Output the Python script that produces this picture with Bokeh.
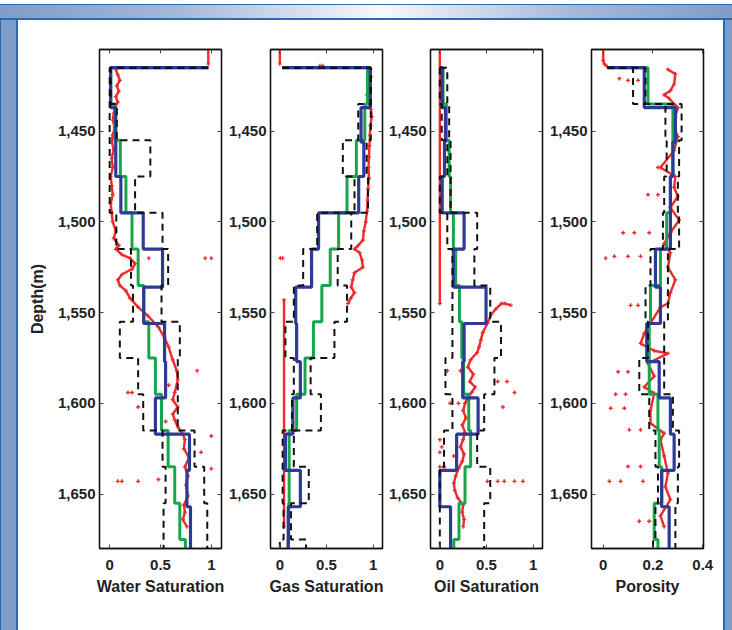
import math
from bokeh.plotting import figure
from bokeh.models import (Range1d, FixedTicker, LinearAxis, NumeralTickFormatter, Div,
                          CustomLabelingPolicy)
from bokeh.layouts import row, column
from bokeh.embed import file_html
from bokeh.resources import INLINE

NAN = float("nan")
BOTTOM = 1680

# ---- layer tops (m) ----
GREEN_TOPS = [1415, 1415, 1435, 1455, 1475, 1495, 1515, 1535, 1555, 1575, 1595, 1615, 1635, 1655, 1675]
BLUE_TOPS = [1415, 1415, 1437, 1456, 1475, 1495, 1515, 1536, 1556, 1577, 1597, 1617, 1637, 1657]
DASH_TOPS = [1415, 1415, 1435, 1455, 1475, 1495, 1515, 1535, 1555, 1575, 1595, 1615, 1635, 1655, 1675]

# ---- Water saturation ----
WS_GREEN = [0.97, 0.01, 0.05, 0.105, 0.16, 0.22, 0.28, 0.335, 0.385, 0.45, 0.51, 0.575, 0.64, 0.69, 0.745]
WS_BLUE = [0.97, 0.01, 0.06, 0.06, 0.11, 0.33, 0.52, 0.335, 0.54, 0.55, 0.45, 0.785, 0.76, 0.795]
WS_UPPER = [0.97, 0.01, 0.07, 0.40, 0.25, 0.52, 0.575, 0.51, 0.69, 0.67, 0.67, 0.835, 0.93, 0.96, 0.96]
WS_LOWER = [0.97, 0.0, 0.0, 0.0, 0.0, 0.065, 0.21, 0.23, 0.10, 0.28, 0.33, 0.52, 0.55, 0.53, 0.53]
WS_LOG_DEPTH = [1405, 1413, NAN,
                1416, 1419, 1422, 1425, 1428, 1431, 1434, 1437, 1440, 1444, 1448, 1452, 1456, 1460,
                1465, 1470, 1475, 1480, 1485, 1490, 1495, 1500, 1505, 1509, 1513, 1515, 1518, 1520,
                1523, 1526, 1529, 1532, 1535, 1538, 1542, 1547, 1552, 1558, 1564, 1569, 1576, 1582,
                1587, 1594, 1598, 1602, 1606, 1609, 1613, 1617, 1620, 1625, 1630, 1635, 1640, 1645,
                1651, 1656, 1660, 1664, 1668]
WS_LOG_VALUE = [0.97, 0.97, NAN,
                0.06, 0.08, 0.10, 0.07, 0.09, 0.06, 0.08, 0.05, 0.04, 0.03, 0.05, 0.03, 0.02, 0.04,
                0.02, 0.03, 0.01, 0.02, 0.03, 0.01, 0.02, 0.03, 0.06, 0.04, 0.09, 0.06, 0.12, 0.20,
                0.25, 0.22, 0.12, 0.08, 0.10, 0.16, 0.20, 0.28, 0.38, 0.48, 0.54, 0.58, 0.62, 0.66,
                0.67, 0.64, 0.62, 0.67, 0.62, 0.64, 0.67, 0.72, 0.74, 0.73, 0.78, 0.74, 0.77, 0.75,
                0.77, 0.73, 0.74, 0.72, 0.76]
WS_OUT_DEPTH = [1520, 1520, 1520, 1582, 1594, 1594, 1602, 1618, 1627, 1636, 1643, 1643, 1643, 1642, 1610, 1590]
WS_OUT_VALUE = [0.385, 0.94, 1.0, 0.86, 0.18, 0.22, 0.28, 1.0, 0.90, 1.0, 0.08, 0.12, 0.28, 0.48, 0.55, 0.58]

# ---- Gas saturation ----
GS_GREEN = [0.025, 0.94, 0.91, 0.82, 0.72, 0.63, 0.54, 0.45, 0.36, 0.27, 0.18, 0.10, 0.10, 0.095, 0.09]
GS_BLUE = [0.025, 0.97, 0.87, 0.90, 0.845, 0.415, 0.34, 0.17, 0.18, 0.22, 0.14, 0.06, 0.22, 0.09]
GS_UPPER = [0.025, 0.975, 0.975, 0.93, 0.945, 0.765, 0.62, 0.72, 0.585, 0.33, 0.44, 0.15, 0.31, 0.12, 0.28]
GS_LOWER = [0.025, 0.975, 0.84, 0.675, 0.80, 0.40, 0.25, 0.15, 0.06, 0.15, 0.13, 0.03, 0.03, 0.04, 0.0]
GS_LOG_DEPTH = [1405, 1413, NAN,
                1416, 1420, 1425, 1430, 1434, 1438, 1442, 1447, 1452, 1458, 1464, 1470, 1476, 1482,
                1488, 1494, 1500, 1505, 1510, 1513, 1515, 1517, 1521, 1525, 1528, 1532, 1536, 1539,
                1542, 1545, NAN,
                1543, 1668]
GS_LOG_VALUE = [0.0, 0.0, NAN,
                0.97, 0.975, 0.96, 0.935, 0.95, 0.975, 0.985, 0.97, 0.965, 0.96, 0.955, 0.95, 0.955, 0.945,
                0.94, 0.935, 0.92, 0.90, 0.89, 0.84, 0.80, 0.855, 0.88, 0.89, 0.80, 0.78, 0.765, 0.80,
                0.76, 0.73, NAN,
                0.045, 0.045]
GS_OUT_DEPTH = [1520, 1520, 1414, 1414]
GS_OUT_VALUE = [0.005, 0.03, 0.43, 0.46]

# ---- Oil saturation ----
OS_GREEN = [0.0, 0.035, 0.07, 0.10, 0.115, 0.145, 0.17, 0.21, 0.235, 0.255, 0.31, 0.33, 0.27, 0.205, 0.15]
OS_BLUE = [0.0, 0.025, 0.06, 0.05, 0.025, 0.26, 0.145, 0.495, 0.26, 0.245, 0.41, 0.18, 0.0, 0.115]
OS_UPPER = [0.0, 0.08, 0.10, 0.115, 0.115, 0.40, 0.37, 0.54, 0.655, 0.585, 0.475, 0.40, 0.54, 0.475, 0.475]
OS_LOWER = [0.0, 0.0, 0.02, 0.08, 0.0, 0.08, 0.135, 0.135, 0.135, 0.06, 0.135, 0.045, 0.0, 0.0, 0.0]
OS_LOG_DEPTH = [1405, 1545, NAN,
                1546, 1545, 1545, 1548, 1551, 1556, 1561, 1565, 1569, 1572, 1576, 1580, 1584, 1588,
                1591, 1594, 1597, 1600, 1604, 1608, 1612, 1616, 1620, 1624, 1628, 1632, 1636, 1640,
                1644, 1648, 1652, 1656, 1660, 1664, 1668]
OS_LOG_VALUE = [0.0, 0.0, NAN,
                0.76, 0.70, 0.66, 0.60, 0.55, 0.51, 0.46, 0.44, 0.42, 0.40, 0.33, 0.30, 0.36, 0.32,
                0.38, 0.34, 0.30, 0.27, 0.25, 0.28, 0.24, 0.27, 0.25, 0.22, 0.26, 0.24, 0.20, 0.17,
                0.15, 0.16, 0.19, 0.25, 0.24, 0.26, 0.25]
OS_OUT_DEPTH = [1582, 1582, 1588, 1594, 1588, 1600, 1600, 1602, 1620, 1624, 1627, 1629, 1635, 1635,
                1643, 1643, 1643, 1643, 1643]
OS_OUT_VALUE = [0.08, 0.22, 0.72, 0.80, 0.62, 0.11, 0.20, 0.675, 0.0, 0.02, 0.0, 0.15, 0.0, 0.05,
                0.51, 0.62, 0.69, 0.80, 0.89]

# ---- Porosity ----
PO_GREEN = [0.017, 0.18, 0.28, 0.28, 0.27, 0.255, 0.23, 0.19, 0.185, 0.185, 0.22, 0.225, 0.235, 0.205, 0.22]
PO_BLUE = [0.017, 0.165, 0.29, 0.28, 0.27, 0.27, 0.21, 0.23, 0.175, 0.225, 0.27, 0.285, 0.235, 0.265]
PO_UPPER = [0.017, 0.17, 0.315, 0.305, 0.30, 0.305, 0.26, 0.26, 0.245, 0.245, 0.28, 0.305, 0.30, 0.29, 0.29]
PO_LOWER = [0.017, 0.12, 0.25, 0.255, 0.245, 0.24, 0.19, 0.17, 0.18, 0.145, 0.185, 0.21, 0.22, 0.21, 0.20]
PO_LOG_DEPTH = [1405, 1411, 1413, 1414.5, NAN,
                1416, 1418.5, 1424, 1427.7, 1430, 1432, 1437, 1442, 1448, 1453, 1460.6, 1470, 1475,
                1481, 1486, 1492, 1499, 1506, 1512, 1517, 1525, 1532, 1539, 1545, 1547, 1561.5, 1567,
                1571, 1572.5, 1578, 1585, 1591, 1594.5, 1603.7, 1611, 1616.5, 1620, 1629, 1638.5,
                1646, 1653, 1662, 1668]
PO_LOG_VALUE = [0.0, 0.0, 0.005, 0.017, NAN,
                0.26, 0.29, 0.285, 0.27, 0.245, 0.265, 0.30, 0.29, 0.285, 0.30, 0.285, 0.23, 0.29,
                0.285, 0.30, 0.27, 0.305, 0.27, 0.245, 0.27, 0.26, 0.29, 0.27, 0.26, 0.23, 0.165, 0.15,
                0.205, 0.26, 0.18, 0.205, 0.165, 0.205, 0.19, 0.19, 0.245, 0.23, 0.245, 0.26,
                0.25, 0.27, 0.23, 0.245]
PO_OUT_DEPTH = [1421, 1422, 1422, 1470, 1485, 1485, 1506, 1506, 1506, 1520, 1519, 1519, 1519, 1546, 1546,
                1582.6, 1582.6, 1595, 1595, 1602.7, 1602.7, 1614.6, 1614.6, 1634.8, 1634.8, 1643, 1643,
                1643, 1665, 1665]
PO_OUT_VALUE = [0.065, 0.10, 0.14, 0.22, 0.18, 0.22, 0.08, 0.125, 0.185, 0.01, 0.045, 0.10, 0.15, 0.11, 0.14,
                0.06, 0.10, 0.05, 0.09, 0.03, 0.085, 0.105, 0.15, 0.10, 0.15, 0.025, 0.07,
                0.16, 0.145, 0.185]

DEPTH_TICKS = [1450, 1500, 1550, 1600, 1650]
SAT_TICKS = [0, 0.5, 1]
SAT_LABELS = {0: "0", 0.5: "0.5", 1: "1"}
POR_TICKS = [0, 0.2, 0.4]
POR_LABELS = {0: "0", 0.2: "0.2", 0.4: "0.4"}

RED = "#ee2a2a"
GREEN = "#17a64a"
BLUE = "#2e3a96"
FONT = "Liberation Sans"
TEXT = "#222222"


def step_path(tops, vals, bottom=BOTTOM):
    xs, ys = [], []
    for i, v in enumerate(vals):
        top = tops[i]
        bot = tops[i + 1] if i + 1 < len(tops) else bottom
        xs += [v, v]
        ys += [top, bot]
    return xs, ys


def style_axis(ax, show_labels=True):
    ax.major_tick_in = 4
    ax.major_tick_out = 0
    ax.minor_tick_in = 0
    ax.minor_tick_out = 0
    ax.major_tick_line_color = "#444444"
    ax.major_tick_line_width = 1
    ax.axis_line_color = "#111111"
    ax.axis_line_width = 1.3
    if show_labels:
        ax.major_label_text_font = FONT
        ax.major_label_text_font_style = "bold"
        ax.major_label_text_font_size = "15px"
        ax.major_label_text_color = TEXT
    else:
        ax.major_label_text_font_size = "0px"
        ax.major_label_standoff = 0
        ax.major_label_policy = CustomLabelingPolicy(code="return new Set()")


def make_panel(xr, xticks, xlabels, xlabel, green, blue, upper, lower,
               log_d, log_v, out_d, out_v, left_border, frame_w, right_border, ylabel=None):
    p = figure(frame_width=frame_w, frame_height=499,
               min_border_left=left_border, min_border_right=right_border,
               min_border_top=29, min_border_bottom=82,
               x_range=Range1d(*xr), y_range=Range1d(BOTTOM, 1405),
               output_backend="svg", toolbar_location=None)
    p.background_fill_color = "white"
    p.border_fill_color = "white"
    p.outline_line_color = "#111111"
    p.outline_line_width = 1.3
    p.xgrid.visible = False
    p.ygrid.visible = False

    # bottom axis
    xa = p.xaxis[0]
    xa.ticker = FixedTicker(ticks=xticks)
    xa.major_label_overrides = xlabels
    style_axis(xa)
    xa.major_label_standoff = 11
    xa.axis_label = xlabel
    xa.axis_label_text_font = FONT
    xa.axis_label_text_font_style = "bold"
    xa.axis_label_text_font_size = "16px"
    xa.axis_label_text_color = TEXT
    xa.axis_label_standoff = 5

    # left axis
    ya = p.yaxis[0]
    ya.ticker = FixedTicker(ticks=DEPTH_TICKS)
    ya.formatter = NumeralTickFormatter(format="0,0")
    style_axis(ya)
    ya.major_label_standoff = 4
    if ylabel:
        ya.axis_label = ylabel
        ya.axis_label_text_font = FONT
        ya.axis_label_text_font_style = "bold"
        ya.axis_label_text_font_size = "16px"
        ya.axis_label_text_color = TEXT
        ya.axis_label_standoff = 9

    # mirrored axes (inward ticks only)
    top = LinearAxis(ticker=FixedTicker(ticks=xticks))
    style_axis(top, show_labels=False)
    p.add_layout(top, "above")
    right = LinearAxis(ticker=FixedTicker(ticks=DEPTH_TICKS))
    style_axis(right, show_labels=False)
    p.add_layout(right, "right")

    # red log
    p.line(log_v, log_d, line_color=RED, line_width=2.4)
    p.scatter(log_v, log_d, marker="cross", size=4, line_color=RED, line_width=1.2)
    p.scatter(out_v, out_d, marker="cross", size=4, line_color=RED, line_width=1.4)

    gx, gy = step_path(GREEN_TOPS, green)
    p.line(gx, gy, line_color=GREEN, line_width=3)
    bx, by = step_path(BLUE_TOPS, blue)
    p.line(bx, by, line_color=BLUE, line_width=3.2)
    ux, uy = step_path(DASH_TOPS, upper)
    p.line(ux, uy, line_color="#111111", line_width=2, line_dash="7 5")
    lx, ly = step_path(DASH_TOPS, lower)
    p.line(lx, ly, line_color="#111111", line_width=2, line_dash="7 5")
    return p


f1 = make_panel((-0.1, 1.1), SAT_TICKS, SAT_LABELS, "Water Saturation",
                WS_GREEN, WS_BLUE, WS_UPPER, WS_LOWER,
                WS_LOG_DEPTH, WS_LOG_VALUE, WS_OUT_DEPTH, WS_OUT_VALUE,
                81, 122, 3, ylabel="Depth(m)")
f2 = make_panel((-0.1, 1.1), SAT_TICKS, SAT_LABELS, "Gas Saturation",
                GS_GREEN, GS_BLUE, GS_UPPER, GS_LOWER,
                GS_LOG_DEPTH, GS_LOG_VALUE, GS_OUT_DEPTH, GS_OUT_VALUE,
                46, 112, 3)
f3 = make_panel((-0.1, 1.1), SAT_TICKS, SAT_LABELS, "Oil Saturation",
                OS_GREEN, OS_BLUE, OS_UPPER, OS_LOWER,
                OS_LOG_DEPTH, OS_LOG_VALUE, OS_OUT_DEPTH, OS_OUT_VALUE,
                45, 112, 3)
f4 = make_panel((-0.047, 0.403), POR_TICKS, POR_LABELS, "Porosity",
                PO_GREEN, PO_BLUE, PO_UPPER, PO_LOWER,
                PO_LOG_DEPTH, PO_LOG_VALUE, PO_OUT_DEPTH, PO_OUT_VALUE,
                46, 112, 20)

DARK = "#2b6aae"
FILL = "#7e9dc9"
header = Div(text="", width=732, height=20, margin=0, styles={
    "background": ("linear-gradient(to bottom, #ffffff 0px, #ffffff 4px, %s 4px, %s 5.5px, "
                   "rgba(0,0,0,0) 5.5px, rgba(0,0,0,0) 18.5px, %s 18.5px, %s 20px), "
                   "linear-gradient(to right, %s 0%%, #a6b9da 25%%, #f7f9fd 52%%, #a6b9da 78%%, %s 100%%)")
                  % (DARK, DARK, DARK, DARK, FILL, FILL)})
left = Div(text="", width=18, height=610, margin=0, styles={
    "background": ("linear-gradient(to right, %s 0px, %s 1.5px, %s 1.5px, %s 16.5px, %s 16.5px, %s 18px)"
                   % (DARK, DARK, FILL, FILL, DARK, DARK))})
right = Div(text="", width=9, height=610, margin=0, styles={
    "background": ("linear-gradient(to right, %s 0px, %s 1.5px, %s 1.5px, %s 9px)"
                   % (DARK, DARK, FILL, FILL))})

layout = column(header, row(left, f1, f2, f3, f4, right, spacing=0), spacing=0)

open("out.html", "w").write(file_html(layout, INLINE))
